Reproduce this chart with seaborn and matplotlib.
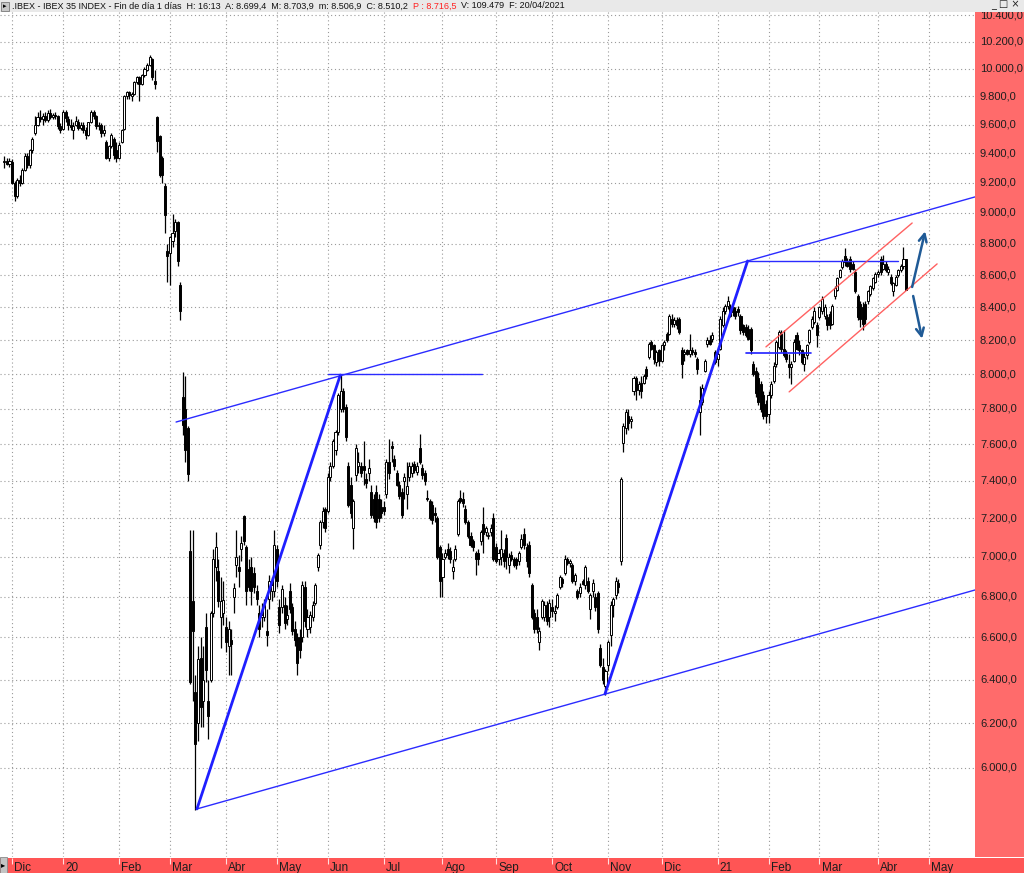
import numpy as np
import pandas as pd
import matplotlib
matplotlib.use("Agg")
import matplotlib.pyplot as plt
import matplotlib.transforms as mtransforms
from matplotlib.patches import Rectangle
from matplotlib.ticker import NullLocator, FixedLocator
import seaborn as sns

# ---------------- data (daily OHLC, IBEX 35, 27/11/2019 .. 20/04/2021) ----------------
opens = [
    9340, 9350, 9330,
    9340, 9200, 9110, 9220, 9200, 9290, 9380, 9320, 9420, 9540, 9600, 9650, 9640, 9660, 9630, 9680, 9650, 9670, 9660, 9590,
    9570, 9690, 9640, 9600, 9560, 9600, 9620, 9573, 9600, 9560, 9530, 9620, 9690, 9660, 9590, 9600, 9540, 9480, 9370, 9450, 9500, 9420,
    9370, 9480, 9570, 9800, 9830, 9800, 9820, 9900, 9940, 9890, 9956, 9990, 10030, 10070, 9910, 9650, 9520, 9370, 9180, 8750,
    8740, 8820, 8880, 8940, 8540, 7870, 7800, 7690, 7030, 6780, 6340, 6200, 6500, 6300, 6650, 6300, 6400, 6720, 6950, 6930, 6700, 6720,
    6650, 6560, 6590, 6800, 6960, 6950, 7040, 7210, 7050, 6940, 6950, 6920, 6830, 6720, 6700, 6700, 6630, 6790, 6830, 6830,
    7040, 6750, 6750, 6760, 6690, 6830, 6750, 6640, 6600, 6600, 6600, 6850, 6640, 6650, 6700, 6770, 6950, 7060, 7180, 7250,
    7240, 7420, 7480, 7570, 7670, 7800, 7900, 7810, 7480, 7380, 7150, 7430, 7480, 7480, 7480, 7410, 7440, 7340, 7300, 7340, 7300, 7260,
    7260, 7330, 7500, 7590, 7520, 7440, 7380, 7340, 7400, 7330, 7420, 7440, 7490, 7450, 7580, 7470, 7440, 7310, 7290, 7270, 7230, 7200, 7050,
    6900, 7000, 7040, 7030, 6930, 6990, 7120, 7310, 7300, 7250, 7180, 7110, 7080, 7020, 7020, 7080, 7170, 7130, 7110, 7130, 7200,
    7050, 6990, 7000, 7020, 7100, 6960, 7010, 6990, 6990, 6980, 7050, 7120, 7050, 7060, 6860, 6720, 6700, 6580, 6700, 6700, 6760, 6700,
    6750, 6720, 6750, 6850, 6890, 6920, 6990, 6970, 6960, 6880, 6830, 6820, 6880, 6860, 6880, 6740, 6830, 6800, 6820, 6550, 6460, 6370,
    6470, 6610, 6760, 6810, 6870, 6980, 7610, 7690, 7760, 7730, 7900, 7980, 7910, 7950, 7950, 8030, 8100, 8190, 8170, 8070, 8140,
    8080, 8170, 8240, 8240, 8330, 8300, 8320, 8330, 8140, 8120, 8140, 8120, 8140, 8130, 8090, 7780, 7840, 8020, 8180, 8200, 8210, 8130,
    8090, 8150, 8290, 8380, 8410, 8400, 8400, 8380, 8390, 8350, 8290, 8280, 8270, 8270, 8060, 8020, 7980, 7940, 7880, 7830,
    7770, 7880, 7960, 8060, 8160, 8240, 8150, 8120, 8060, 8040, 8080, 8230, 8170, 8140, 8060, 8110, 8190, 8280, 8310, 8290,
    8340, 8380, 8350, 8340, 8360, 8300, 8470, 8510, 8590, 8650, 8720, 8680, 8700, 8670, 8620, 8470, 8420, 8400, 8420, 8440, 8480, 8520, 8560,
    8610, 8700, 8640, 8670, 8620, 8590, 8500, 8540, 8600, 8630, 8660, 8699,
]
highs = [
    9380, 9370, 9370,
    9360, 9210, 9230, 9250, 9300, 9400, 9400, 9430, 9510, 9660, 9690, 9700, 9680, 9690, 9700, 9710, 9680, 9690, 9670, 9610,
    9700, 9700, 9660, 9640, 9620, 9660, 9640, 9620, 9620, 9580, 9620, 9700, 9700, 9670, 9620, 9610, 9600, 9490, 9460, 9540, 9510, 9480,
    9480, 9570, 9810, 9840, 9840, 9830, 9910, 9950, 9950, 9960, 10010, 10040, 10100, 10080, 9990, 9660, 9530, 9380, 9200, 8800,
    8850, 8990, 8960, 8950, 8560, 8010, 7990, 7700, 7140, 7140, 6420, 6560, 6600, 6560, 6720, 6400, 6730, 7040, 7130, 6990, 6900, 6880,
    6700, 6680, 6640, 6870, 7140, 7010, 7110, 7220, 7060, 6990, 7000, 6950, 6860, 6760, 6770, 6790, 6740, 6910, 6900, 7140,
    7060, 6790, 6860, 6800, 6760, 6870, 6770, 6680, 6620, 6640, 6880, 6880, 6740, 6730, 6780, 6870, 7020, 7190, 7260, 7260,
    7440, 7500, 7630, 7680, 7890, 7995, 7920, 7830, 7500, 7420, 7300, 7600, 7560, 7500, 7620, 7440, 7520, 7380, 7330, 7380, 7330, 7300,
    7290, 7520, 7630, 7620, 7540, 7460, 7400, 7360, 7440, 7500, 7500, 7500, 7510, 7500, 7660, 7490, 7460, 7350, 7300, 7290, 7260, 7210, 7060,
    7020, 7040, 7070, 7050, 6990, 7060, 7300, 7350, 7340, 7270, 7190, 7130, 7090, 7030, 7040, 7140, 7260, 7160, 7130, 7170, 7230,
    7070, 7040, 7140, 7040, 7120, 7020, 7030, 7000, 7000, 7030, 7120, 7150, 7070, 7080, 6870, 6740, 6740, 6650, 6790, 6780, 6780, 6790,
    6790, 6760, 6820, 6910, 6900, 7010, 7000, 6990, 6970, 6920, 6840, 6870, 6890, 6960, 6900, 6820, 6890, 6820, 6830, 6570, 6500, 6450,
    6590, 6780, 6800, 6900, 6890, 7420, 7720, 7800, 7800, 7760, 7990, 7990, 7960, 7990, 8000, 8050, 8190, 8200, 8180, 8140, 8150,
    8180, 8200, 8250, 8360, 8360, 8340, 8340, 8340, 8160, 8150, 8150, 8240, 8160, 8150, 8100, 7930, 7940, 8090, 8220, 8230, 8250, 8140,
    8140, 8350, 8400, 8420, 8470, 8420, 8410, 8400, 8410, 8360, 8300, 8300, 8290, 8280, 8080, 8040, 8010, 7960, 7900, 7850,
    7900, 7960, 8070, 8200, 8260, 8260, 8260, 8140, 8120, 8080, 8210, 8250, 8200, 8150, 8130, 8180, 8270, 8350, 8400, 8310,
    8410, 8470, 8420, 8360, 8380, 8420, 8530, 8590, 8640, 8700, 8770, 8710, 8720, 8690, 8640, 8480, 8440, 8430, 8440, 8510, 8540, 8590, 8620,
    8630, 8720, 8730, 8690, 8660, 8610, 8560, 8600, 8640, 8670, 8780, 8704,
]
lows = [
    9300, 9320, 9310,
    9190, 9080, 9100, 9180, 9190, 9280, 9300, 9300, 9400, 9530, 9590, 9620, 9600, 9620, 9620, 9640, 9640, 9640, 9570, 9540,
    9560, 9620, 9560, 9560, 9500, 9590, 9560, 9560, 9540, 9500, 9520, 9610, 9640, 9570, 9560, 9510, 9520, 9360, 9350, 9440, 9360, 9340,
    9360, 9470, 9560, 9780, 9780, 9770, 9810, 9890, 9770, 9880, 9940, 9980, 10020, 9920, 9850, 9410, 9240, 9200, 8870, 8560,
    8540, 8780, 8840, 8660, 8320, 7650, 7500, 7400, 6380, 6300, 5820, 6120, 6180, 6180, 6390, 6130, 6390, 6700, 6880, 6750, 6550, 6660,
    6530, 6420, 6420, 6720, 6900, 6850, 6980, 7060, 6760, 6830, 6760, 6820, 6760, 6600, 6650, 6680, 6560, 6740, 6780, 6800,
    6850, 6620, 6720, 6640, 6660, 6720, 6610, 6560, 6420, 6500, 6580, 6650, 6600, 6620, 6680, 6760, 6930, 7040, 7150, 7130,
    7230, 7400, 7470, 7540, 7650, 7780, 7780, 7620, 7260, 7200, 7040, 7400, 7440, 7420, 7380, 7360, 7400, 7200, 7180, 7150, 7180, 7200,
    7220, 7310, 7410, 7500, 7460, 7370, 7300, 7200, 7300, 7250, 7400, 7420, 7440, 7430, 7490, 7410, 7380, 7290, 7190, 7170, 7180, 6990, 6800,
    6800, 6990, 6990, 6970, 6890, 6980, 7110, 7280, 7260, 7170, 7100, 7050, 7030, 6910, 6960, 7060, 7020, 7110, 7090, 7110, 6980,
    6970, 6960, 6960, 6950, 6940, 6920, 6980, 6950, 6940, 6960, 7040, 7040, 6950, 6900, 6690, 6620, 6620, 6540, 6690, 6680, 6660, 6650,
    6700, 6680, 6740, 6840, 6850, 6910, 6960, 6950, 6870, 6860, 6790, 6800, 6860, 6840, 6820, 6690, 6800, 6730, 6620, 6460, 6380, 6330,
    6440, 6560, 6700, 6790, 6820, 6960, 7560, 7660, 7680, 7690, 7880, 7850, 7880, 7860, 7940, 7970, 8090, 8140, 8060, 8050, 8050,
    8070, 8140, 8190, 8230, 8280, 8280, 8270, 8240, 7980, 8080, 8110, 8100, 8110, 8100, 8000, 7650, 7820, 8010, 8160, 8170, 8190, 8060,
    8050, 8140, 8280, 8360, 8390, 8340, 8350, 8330, 8350, 8240, 8230, 8220, 8200, 8120, 7990, 7870, 7820, 7780, 7740, 7720,
    7720, 7860, 7950, 8040, 8150, 8130, 8100, 8070, 7980, 7940, 8070, 8140, 8110, 8060, 8020, 8090, 8180, 8270, 8300, 8160,
    8330, 8360, 8330, 8260, 8270, 8290, 8450, 8500, 8580, 8640, 8660, 8650, 8620, 8630, 8490, 8320, 8280, 8260, 8300, 8420, 8470, 8510, 8550,
    8590, 8600, 8630, 8620, 8600, 8540, 8470, 8530, 8590, 8620, 8640, 8507,
]
closes = [
    9350, 9330, 9345,
    9200, 9110, 9220, 9200, 9290, 9380, 9320, 9420, 9500, 9600, 9650, 9640, 9660, 9630, 9680, 9650, 9670, 9660, 9590, 9560,
    9690, 9646, 9600, 9580, 9591, 9622, 9573, 9597, 9560, 9530, 9616, 9690, 9660, 9590, 9600, 9540, 9562, 9370, 9450, 9530, 9390, 9367,
    9460, 9560, 9800, 9830, 9812, 9814, 9900, 9940, 9890, 9956, 10000, 10030, 10083, 9940, 9889, 9483, 9250, 9250, 8985, 8723,
    8840, 8870, 8940, 8690, 8375, 7708, 7570, 7436, 6390, 6630, 6107, 6498, 6274, 6400, 6443, 6230, 6717, 6990, 7050, 6778, 6780, 6785,
    6579, 6640, 6570, 6844, 7000, 6930, 7070, 7080, 6830, 6850, 6830, 6850, 6790, 6640, 6710, 6760, 6610, 6880, 6860, 7060,
    6880, 6660, 6840, 6670, 6710, 6740, 6630, 6590, 6480, 6540, 6860, 6680, 6700, 6710, 6760, 6860, 7010, 7180, 7240, 7150,
    7420, 7480, 7620, 7670, 7880, 7900, 7800, 7640, 7270, 7230, 7290, 7580, 7500, 7440, 7460, 7390, 7470, 7220, 7200, 7180, 7200, 7230,
    7240, 7500, 7440, 7580, 7480, 7380, 7320, 7220, 7420, 7370, 7480, 7480, 7460, 7480, 7500, 7430, 7400, 7300, 7200, 7190, 7220, 7000, 6880,
    6990, 7020, 7010, 6990, 6950, 7040, 7290, 7290, 7280, 7180, 7110, 7060, 7050, 6990, 6990, 7130, 7120, 7150, 7115, 7150, 6990,
    6980, 7020, 7040, 6980, 7000, 7000, 6990, 6960, 6960, 7020, 7090, 7060, 6980, 6920, 6700, 6640, 6640, 6630, 6780, 6760, 6680, 6770,
    6730, 6730, 6810, 6900, 6870, 6990, 6970, 6980, 6880, 6910, 6800, 6850, 6865, 6950, 6830, 6810, 6870, 6750, 6640, 6470, 6400, 6440,
    6580, 6760, 6790, 6880, 6850, 7410, 7700, 7780, 7720, 7740, 7980, 7910, 7940, 7900, 7990, 7990, 8180, 8150, 8090, 8130, 8076,
    8170, 8190, 8200, 8350, 8300, 8320, 8290, 8250, 8060, 8130, 8120, 8140, 8130, 8120, 8030, 7850, 7920, 8080, 8200, 8180, 8230, 8073,
    8120, 8330, 8380, 8410, 8440, 8350, 8370, 8350, 8370, 8260, 8250, 8230, 8210, 8140, 8000, 7890, 7840, 7800, 7760, 7757,
    7880, 7940, 8050, 8190, 8250, 8150, 8110, 8090, 8040, 8060, 8190, 8150, 8140, 8070, 8100, 8170, 8260, 8330, 8380, 8230,
    8400, 8450, 8400, 8290, 8290, 8410, 8520, 8580, 8630, 8690, 8680, 8660, 8640, 8640, 8500, 8340, 8330, 8300, 8330, 8500, 8530, 8580, 8610,
    8620, 8620, 8670, 8630, 8640, 8550, 8550, 8590, 8630, 8660, 8700, 8510,
]

# exchange holidays (calendar only)
holidays = ["2019-12-25", "2019-12-26", "2020-01-01", "2020-04-10", "2020-04-13", "2020-05-01",
            "2020-12-25", "2021-01-01", "2021-04-02", "2021-04-05"]

month_keys = [(2019, 12), (2020, 1), (2020, 2), (2020, 3), (2020, 4), (2020, 5), (2020, 6), (2020, 7),
              (2020, 8), (2020, 9), (2020, 10), (2020, 11), (2020, 12), (2021, 1), (2021, 2), (2021, 3),
              (2021, 4), (2021, 5)]
month_labels = ["Dic", "20", "Feb", "Mar", "Abr", "May", "Jun", "Jul", "Ago", "Sep", "Oct", "Nov",
                "Dic", "21", "Feb", "Mar", "Abr", "May"]

y_ticks = [6000, 6200, 6400, 6600, 6800, 7000, 7200, 7400, 7600, 7800, 8000, 8200, 8400, 8600,
           8800, 9000, 9200, 9400, 9600, 9800, 10000, 10200, 10400]

# trend lines drawn on the chart: (trading-day index, price)
upper_channel_x = [67.4, 381.1]
upper_channel_y = [7725, 9106]
lower_channel_x = [75.6, 381.1]
lower_channel_y = [5823, 6833]
swing1_x = [75.6, 131.9]
swing1_y = [5823, 7995]
swing2_x = [235.8, 291.8]
swing2_y = [6333, 8690]
hline1_x = [127.0, 187.5]
hline1_y = [8000, 8000]
hline2_x = [291.6, 350.8]
hline2_y = [8688, 8688]
hline3_x = [291.2, 316.7]
hline3_y = [8125, 8125]
red_upper_x = [299.0, 356.4]
red_upper_y = [8161, 8934]
red_lower_x = [308.1, 366.2]
red_lower_y = [7897, 8671]
arrow_up = [(356.4, 8526), (361.5, 8880)]
arrow_down = [(356.8, 8470), (360.3, 8210)]

header_main = ".IBEX - IBEX 35 INDEX - Fin de día 1 días  H: 16:13  A: 8.699,4  M: 8.703,9  m: 8.506,9  C: 8.510,2  "
header_red = "P : 8.716,5"
header_tail = "  V: 109.479  F: 20/04/2021"

# ---------------- figure ----------------
sns.set_theme(style="white")
plt.rcParams['font.family'] = ['Liberation Sans', 'DejaVu Sans']

W, H = 1024, 873
fig = plt.figure(figsize=(W / 100, H / 100), dpi=100)
fig.patch.set_facecolor('white')

PX0, PXD = 4.4, 2.547


def idx_at(px):
    return (px - PX0) / PXD


TOP, BOT, RIGHT = 12, 857, 975
YMIN, YMAX = 5622, 10423

ax = fig.add_axes([0, (H - BOT) / H, RIGHT / W, (BOT - TOP) / H])
ax.set_facecolor('white')
for s in ax.spines.values():
    s.set_visible(False)
ax.set_yscale('log')

# calendar -> month-start positions
cal = pd.bdate_range("2019-11-27", "2021-06-30")
cal = cal[~cal.isin(pd.to_datetime(holidays))]
pos = pd.Series(np.arange(len(cal)), index=cal)
first = pos.groupby([cal.year, cal.month]).min()
month_pos = [int(first.loc[k]) for k in month_keys]

n = min(len(opens), len(highs), len(lows), len(closes))
x = np.arange(n)
o = np.array(opens[:n], float)
h = np.array(highs[:n], float)
l = np.array(lows[:n], float)
c = np.array(closes[:n], float)
up = c >= o

# candles
ax.vlines(x, l, h, color='black', linewidth=0.9, zorder=2)
body_up = np.maximum(c[up] - o[up], 4)
body_dn = np.maximum(o[~up] - c[~up], 4)
ax.bar(x[up], body_up, bottom=o[up], width=0.8, facecolor='white', edgecolor='black', linewidth=0.7, zorder=3)
ax.bar(x[~up], body_dn, bottom=c[~up], width=0.8, facecolor='black', edgecolor='black', linewidth=0.7, zorder=3)


def seg(xs, ys, color, lw, alpha=1.0):
    sns.lineplot(x=xs, y=ys, ax=ax, color=color, linewidth=lw, alpha=alpha,
                 legend=False, estimator=None, sort=False, zorder=4)


seg(upper_channel_x, upper_channel_y, '#2b2bff', 1.0)
seg(lower_channel_x, lower_channel_y, '#2b2bff', 1.0)
seg(swing1_x, swing1_y, '#1f1fff', 2.0)
seg(swing2_x, swing2_y, '#1f1fff', 2.0)
seg(hline1_x, hline1_y, '#2b2bff', 1.0)
seg(hline2_x, hline2_y, '#2b2bff', 1.0)
seg(hline3_x, hline3_y, '#1f1fff', 1.2)
seg(red_upper_x, red_upper_y, '#ff5050', 1.0, 0.9)
seg(red_lower_x, red_lower_y, '#ff5050', 1.0, 0.9)

for (a, b) in (arrow_up, arrow_down):
    ax.annotate('', xy=b, xytext=a,
                arrowprops=dict(arrowstyle='->', color='#1f5a96', lw=1.8, mutation_scale=14,
                                shrinkA=0, shrinkB=0), zorder=5)

ax.set_ylim(YMIN, YMAX)
ax.set_xlim(idx_at(0), idx_at(RIGHT))
ax.xaxis.set_major_locator(FixedLocator(month_pos))
ax.yaxis.set_major_locator(FixedLocator(y_ticks))
ax.yaxis.set_minor_locator(NullLocator())
ax.xaxis.set_minor_locator(NullLocator())
ax.tick_params(which='both', length=0, labelleft=False, labelbottom=False, labelright=False)
ax.grid(True, which='major', color='#9a9a9a', linestyle=(0, (1, 2.5)), linewidth=0.8)
ax.set_axisbelow(True)
ax.set_xlabel('')
ax.set_ylabel('')

# right price panel
rx = fig.add_axes([RIGHT / W, (H - BOT) / H, (W - RIGHT) / W, (BOT - TOP) / H])
rx.set_facecolor('#ff6b6b')
for s in rx.spines.values():
    s.set_visible(False)
rx.set_yscale('log')
rx.set_ylim(YMIN, YMAX)
rx.set_xlim(0, 1)
rx.xaxis.set_major_locator(NullLocator())
rx.yaxis.set_major_locator(NullLocator())
rx.yaxis.set_minor_locator(NullLocator())
tr = mtransforms.blended_transform_factory(rx.transAxes, rx.transData)


def fmt(v):
    s = f"{v:,.1f}"
    return s.replace(',', 'X').replace('.', ',').replace('X', '.')


for v in y_ticks:
    rx.text(5 / 49, v, fmt(v), transform=tr, ha='left', va='center', fontsize=8,
            color='#1e1e1e', clip_on=True)

# bottom date bar
bx = fig.add_axes([0, 0, 1, (H - BOT - 1) / H])
bx.set_facecolor('#ff5555')
for s in bx.spines.values():
    s.set_visible(False)
bx.set_xlim(idx_at(0), idx_at(W))
bx.set_ylim(0, 1)
bx.xaxis.set_major_locator(NullLocator())
bx.yaxis.set_major_locator(NullLocator())
bx.vlines(month_pos, 0.62, 1.0, color='#ffdede', linewidth=0.8)
for p, lab in zip(month_pos, month_labels):
    bx.text(p + 0.9, 0.36, lab, ha='left', va='center', fontsize=8.5, color='#1e1e1e')
fig.add_artist(Rectangle((0, 0), 7 / W, (H - BOT) / H, transform=fig.transFigure,
                         facecolor='#c4c4c4', edgecolor='#8a8a8a', linewidth=0.6))
fig.text(3.5 / W, (H - BOT) / 2 / H, "▸", ha='center', va='center', fontsize=6,
         color='black', family=['DejaVu Sans'])

# header bar
fig.add_artist(Rectangle((0, (H - TOP) / H), 1, TOP / H, transform=fig.transFigure,
                         facecolor='#e9e9e9', edgecolor='none'))
fig.add_artist(Rectangle((1 / W, (H - 10.5) / H), 8 / W, 9 / H, transform=fig.transFigure,
                         facecolor='#c8c8c8', edgecolor='#7a7a7a', linewidth=0.6))
fig.text(5 / W, (H - 6) / H, "▸", ha='center', va='center', fontsize=5, color='black',
         family=['DejaVu Sans'])

renderer = fig.canvas.get_renderer()
probe = fig.text(0, 0, header_main + header_red + header_tail, fontsize=10)
wfull = probe.get_window_extent(renderer).width
probe.remove()
fs = 10 * 548 / wfull
xcur = 12
for txt, col in ((header_main, '#111111'), (header_red, '#ff2020'), (header_tail, '#111111')):
    t = fig.text(xcur / W, (H - 6) / H, txt, fontsize=fs, color=col, ha='left', va='center')
    xcur += t.get_window_extent(renderer).width

fig.text(1020 / W, (H - 5.5) / H, "_ □ ×", ha='right', va='center', fontsize=7,
         color='#222222', family=['DejaVu Sans'])

fig.savefig("out.png", dpi=100)
